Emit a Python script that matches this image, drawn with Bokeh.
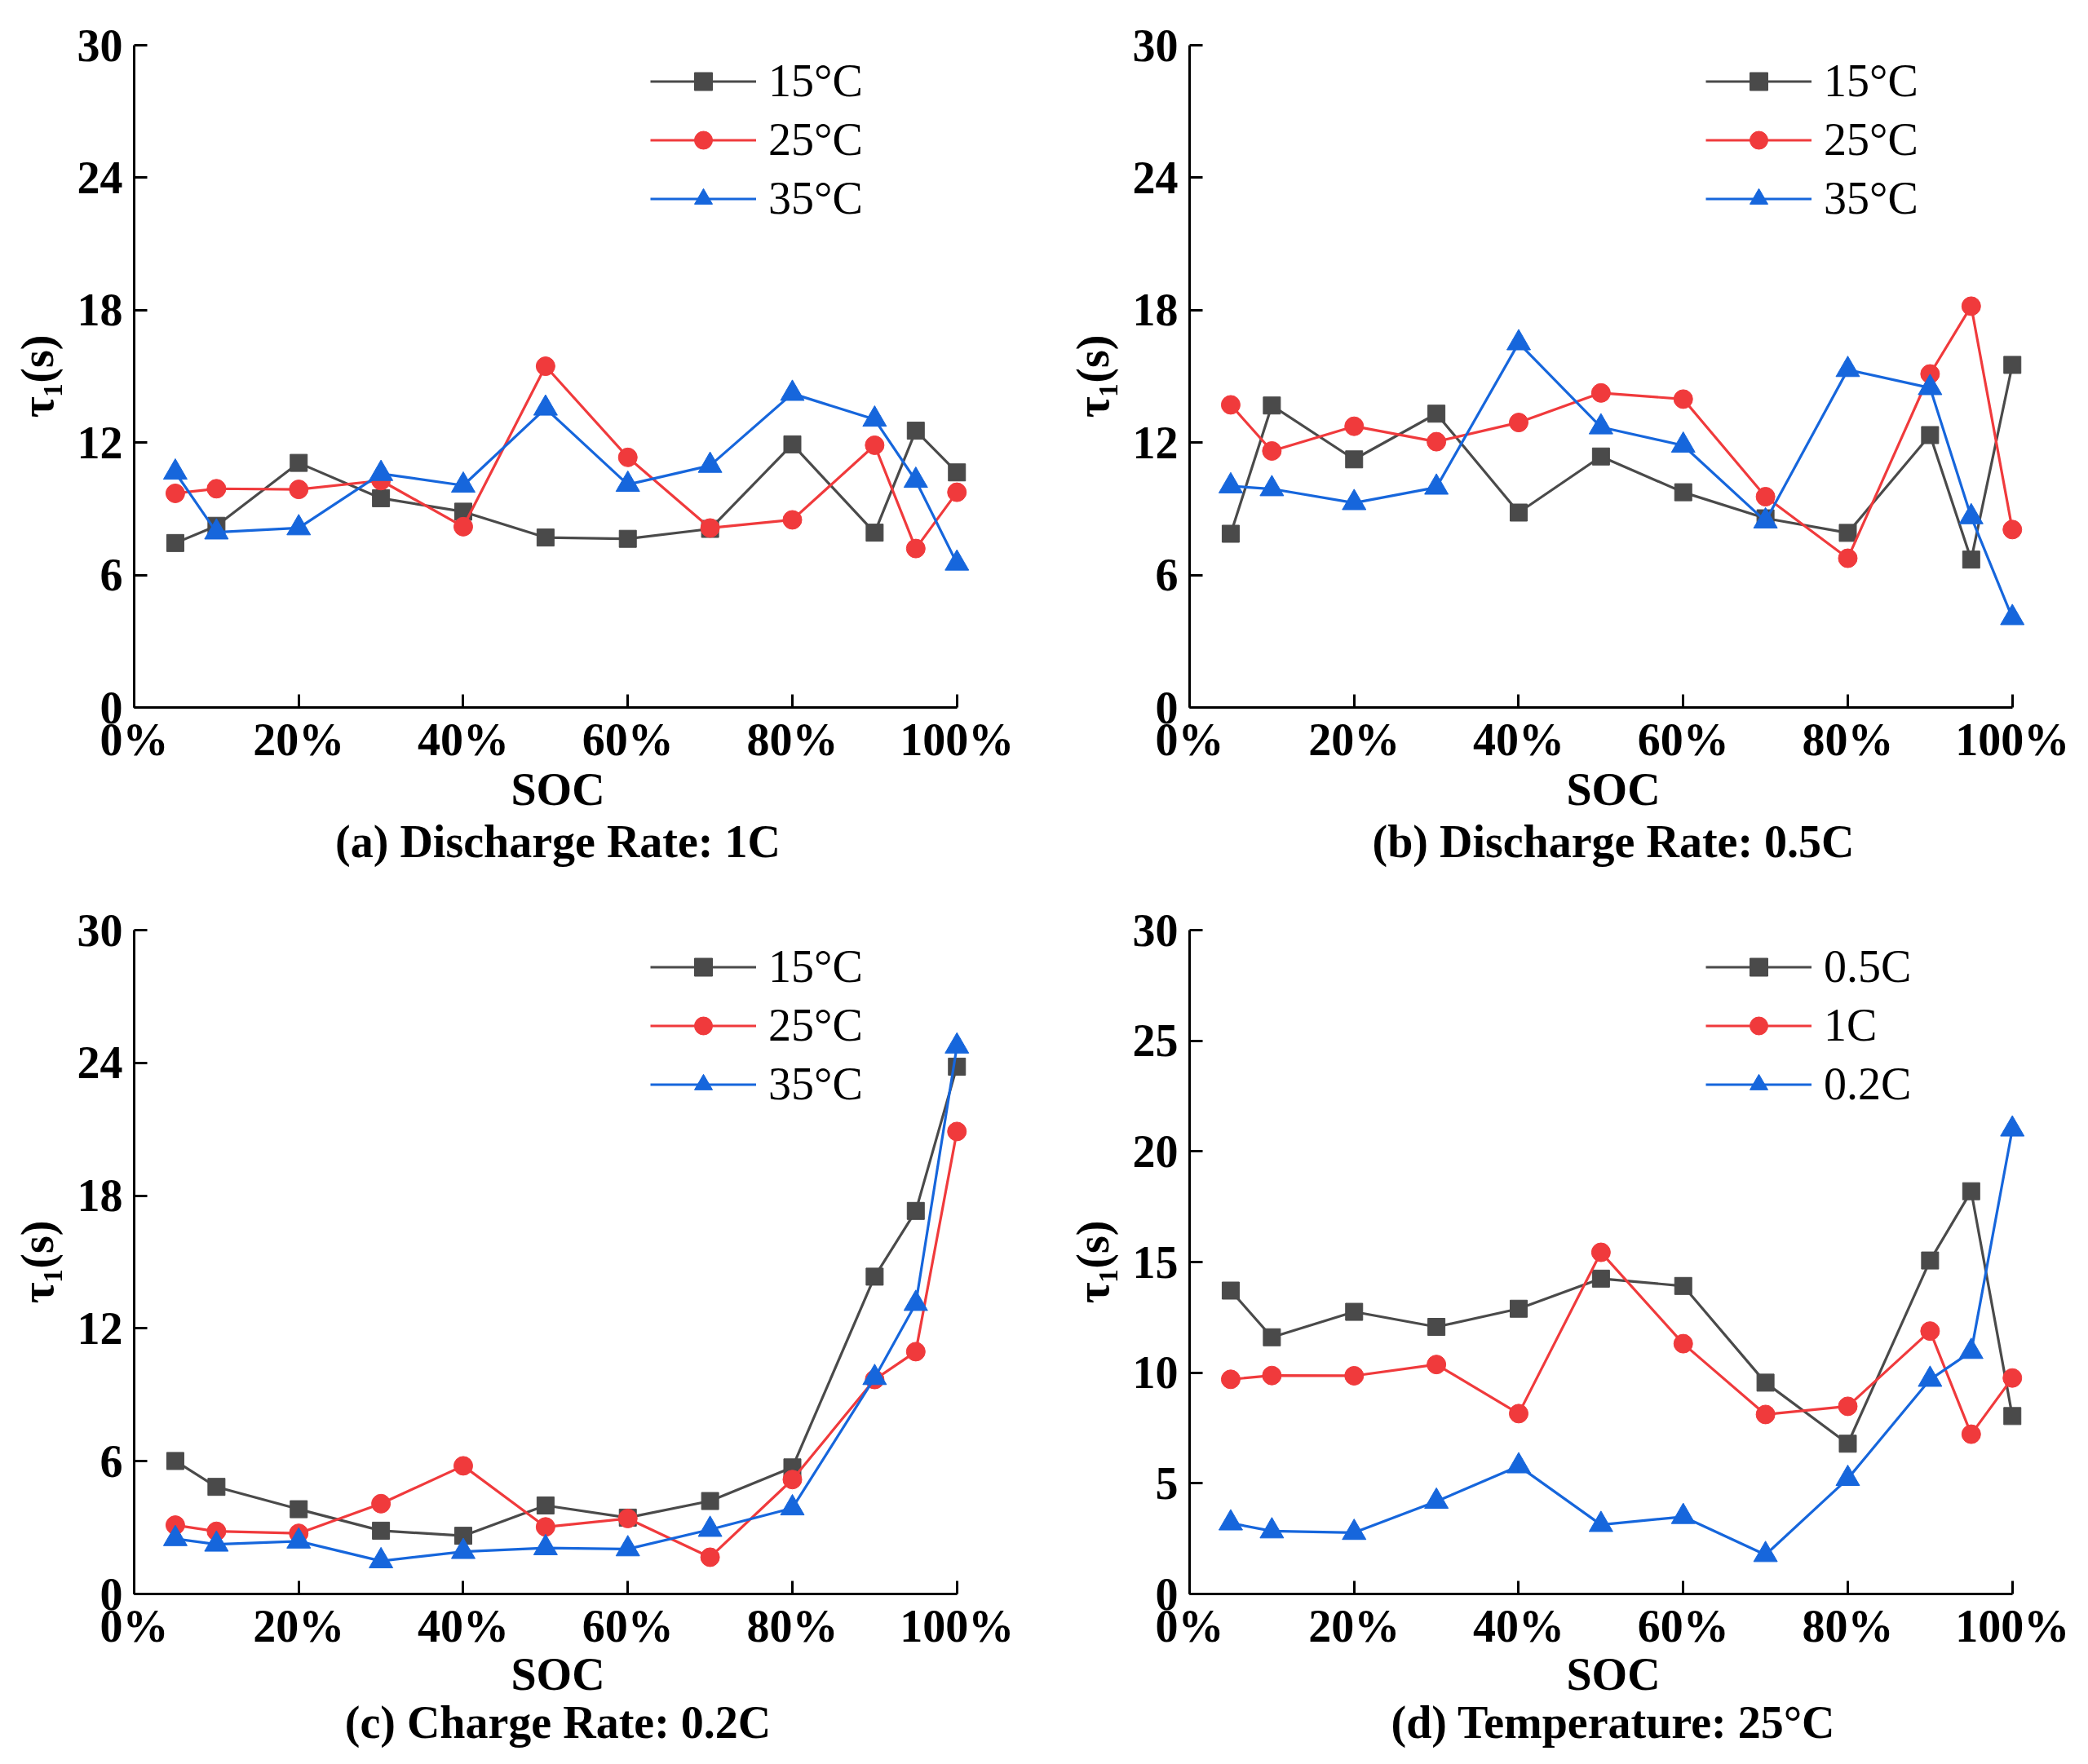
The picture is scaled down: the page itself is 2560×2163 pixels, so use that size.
from bokeh.plotting import figure
from bokeh.models import Range1d, FixedTicker, Title, Legend, LegendItem
from bokeh.layouts import column, row
from bokeh.embed import file_html
from bokeh.resources import INLINE

# ---------------- data ----------------
soc = [5, 10, 20, 30, 40, 50, 60, 70, 80, 90, 95, 100]
x_ticks = [0, 20, 40, 60, 80, 100]
x_tick_labels = ["0%", "20%", "40%", "60%", "80%", "100%"]
y_ticks_6 = [0, 6, 12, 18, 24, 30]
y_ticks_5 = [0, 5, 10, 15, 20, 25, 30]

temp_labels = ["15°C", "25°C", "35°C"]
rate_labels = ["0.5C", "1C", "0.2C"]

a_15 = [7.45, 8.23, 11.08, 9.48, 8.87, 7.70, 7.64, 8.09, 11.92, 7.92, 12.54, 10.65]
a_25 = [9.70, 9.91, 9.88, 10.28, 8.19, 15.46, 11.33, 8.13, 8.50, 11.88, 7.20, 9.75]
a_35 = [10.65, 7.94, 8.13, 10.59, 10.06, 13.55, 10.10, 10.96, 14.22, 13.05, 10.28, 6.53]

b_15 = [7.87, 13.68, 11.24, 13.31, 8.83, 11.37, 9.75, 8.57, 7.91, 12.34, 6.70, 15.52]
b_25 = [13.71, 11.62, 12.74, 12.04, 12.91, 14.25, 13.97, 9.55, 6.76, 15.11, 18.18, 8.06]
b_35 = [10.03, 9.90, 9.27, 9.97, 16.51, 12.70, 11.87, 8.44, 15.30, 14.48, 8.63, 4.06]

c_15 = [6.01, 4.84, 3.83, 2.86, 2.63, 4.00, 3.45, 4.20, 5.72, 14.34, 17.31, 23.83]
c_25 = [3.11, 2.83, 2.74, 4.08, 5.79, 3.03, 3.41, 1.66, 5.17, 9.69, 10.95, 20.90]
c_35 = [2.49, 2.24, 2.38, 1.49, 1.91, 2.08, 2.03, 2.91, 3.88, 9.77, 13.12, 24.75]

d_05 = [13.71, 11.60, 12.75, 12.07, 12.89, 14.25, 13.92, 9.55, 6.79, 15.07, 18.20, 8.04]
d_1 = [9.70, 9.87, 9.86, 10.37, 8.15, 15.44, 11.31, 8.11, 8.48, 11.88, 7.22, 9.76]
d_02 = [3.20, 2.84, 2.77, 4.18, 5.78, 3.13, 3.49, 1.77, 5.21, 9.69, 10.95, 21.00]

titles = ["(a) Discharge Rate: 1C", "(b) Discharge Rate: 0.5C",
          "(c) Charge Rate: 0.2C", "(d) Temperature: 25°C"]

# ---------------- style ----------------
FONT = "Liberation Serif"
FS = "56px"
COLORS = ["#4a4a4a", "#f03a3c", "#1666dc"]
MARKERS = [("square", 21), ("circle", 23), ("triangle", 29)]


def make_panel(title, labels, series, yticks, mbl, mbr, mbt, mbb, frame_h,
               leg_dy, xl_standoff, title_standoff):
    p = figure(frame_width=1039, frame_height=frame_h,
               x_range=Range1d(0, 103), y_range=Range1d(0, 30),
               output_backend="svg", toolbar_location=None, title=None,
               min_border_left=mbl, min_border_right=mbr,
               min_border_top=mbt, min_border_bottom=mbb)
    p.outline_line_color = None
    p.xgrid.visible = False
    p.ygrid.visible = False
    p.background_fill_color = "white"
    p.border_fill_color = "white"

    items = []
    for vals, lab, col, (mk, sz) in zip(series, labels, COLORS, MARKERS):
        ln = p.line(soc, vals, line_color=col, line_width=3.2)
        sc = p.scatter(soc, vals, marker=mk, size=sz, fill_color=col,
                       line_color=col, line_width=1)
        items.append(LegendItem(label=lab, renderers=[ln, sc]))

    leg = Legend(items=items, location=(633, frame_h - leg_dy),
                 background_fill_alpha=0, border_line_color=None,
                 padding=0, margin=0, spacing=8,
                 glyph_width=130, glyph_height=55, label_height=63,
                 label_standoff=15, label_text_font=FONT,
                 label_text_font_size=FS, label_text_color="black")
    p.add_layout(leg, "center")

    xa = p.xaxis[0]
    xa.ticker = FixedTicker(ticks=x_ticks)
    xa.major_label_overrides = {t: l for t, l in zip(x_ticks, x_tick_labels)}
    xa.bounds = (0, 100)
    xa.axis_label = "SOC"
    xa.axis_label_standoff = xl_standoff
    xa.major_label_standoff = 8

    ya = p.yaxis[0]
    ya.ticker = FixedTicker(ticks=yticks)
    ya.axis_label = "τ₁(s)"
    ya.axis_label_standoff = 15
    ya.major_label_standoff = 14

    for ax in (xa, ya):
        ax.axis_line_width = 3
        ax.axis_line_color = "black"
        ax.major_tick_line_width = 3
        ax.major_tick_line_color = "black"
        ax.major_tick_in = 16
        ax.major_tick_out = 0
        ax.minor_tick_line_color = None
        ax.major_label_text_font = FONT
        ax.major_label_text_font_size = FS
        ax.major_label_text_font_style = "bold"
        ax.major_label_text_color = "black"
        ax.axis_label_text_font = FONT
        ax.axis_label_text_font_size = FS
        ax.axis_label_text_font_style = "bold"
        ax.axis_label_text_color = "black"

    p.add_layout(Title(text=title, align="center", text_font=FONT,
                       text_font_size=FS, text_font_style="bold",
                       text_color="black", standoff=title_standoff), "below")
    return p


pa = make_panel(titles[0], temp_labels, [a_15, a_25, a_35], y_ticks_6, 164, 69, 55, 200, 812, 220, -4, -5)
pb = make_panel(titles[1], temp_labels, [b_15, b_25, b_35], y_ticks_6, 186, 47, 55, 200, 812, 220, -4, -5)
pc = make_panel(titles[2], temp_labels, [c_15, c_25, c_35], y_ticks_6, 164, 69, 73, 195, 814, 221, -6, -15)
pd = make_panel(titles[3], rate_labels, [d_05, d_1, d_02], y_ticks_5, 186, 47, 73, 195, 814, 221, -6, -15)

layout = column(row(pa, pb), row(pc, pd))

open("out.html", "w").write(file_html(layout, INLINE))
